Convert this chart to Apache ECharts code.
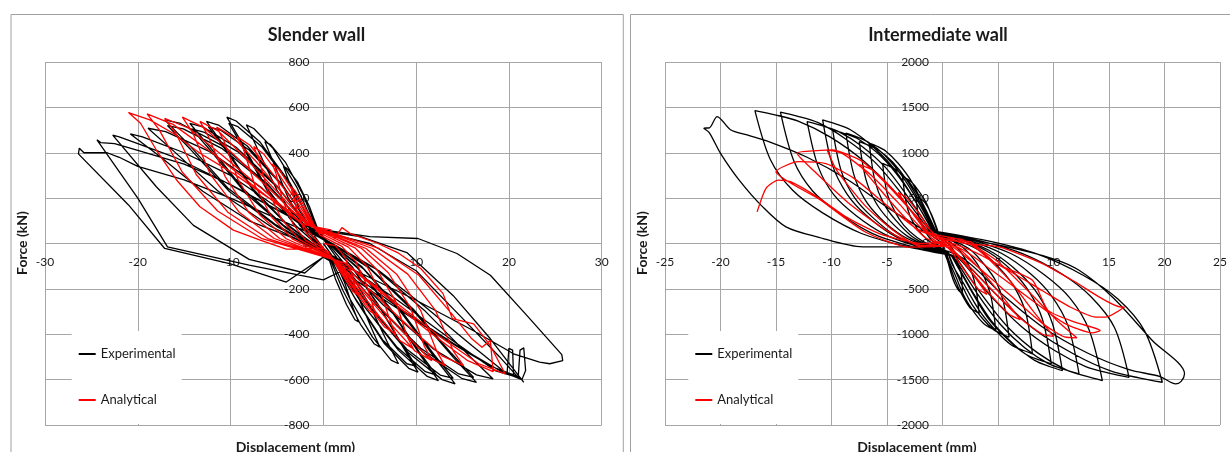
<!DOCTYPE html>
<html>
<head>
<meta charset="utf-8">
<script src="https://cdn.jsdelivr.net/npm/echarts@6/dist/echarts.min.js"></script>
<style>
  html, body { margin: 0; padding: 0; background: #fff; }
  #chart { width: 1230px; height: 452px; }
</style>
</head>
<body>
<div id="chart"></div>
<script>
// axis ticks
const slenderXTicks = [-30, -20, -10, 0, 10, 20, 30];
const slenderYTicks = [-800, -600, -400, -200, 0, 200, 400, 600, 800];
const interXTicks = [-25, -20, -15, -10, -5, 0, 5, 10, 15, 20, 25];
const interYTicks = [-2000, -1500, -1000, -500, 0, 500, 1000, 1500, 2000];

const seriesNames = ["Experimental", "Analytical"];
const chartTitles = ["Slender wall", "Intermediate wall"];

// slender wall, experimental (displacement mm, force kN)
const slenderExp = [
  [0, 0],
  [1.1, -62], [2.3, -173], [3.2, -284], [3.8, -346], [3.4, -336], [2.5, -270], [1.3, -156], [0.4, -42],
  [-1.3, 51], [-2.6, 153], [-3.7, 272], [-4.3, 340], [-3.9, 330], [-2.8, 272], [-1.5, 163], [-0.4, 41],
  [1.8, -82], [3.7, -229], [5.2, -375], [6.1, -457], [5.5, -443], [4.0, -356], [2.1, -206], [0.6, -55],
  [-1.9, 67], [-3.8, 202], [-5.4, 359], [-6.3, 449], [-5.7, 436], [-4.1, 359], [-2.2, 216], [-0.6, 54],
  [2.4, -95], [4.9, -265], [6.9, -435], [8.1, -530], [7.3, -514], [5.3, -413], [2.8, -239], [0.8, -64],
  [-2.5, 78], [-5.0, 235], [-7.1, 418], [-8.3, 523], [-7.5, 507], [-5.4, 418], [-2.9, 251], [-0.8, 63],
  [3.1, -102], [6.1, -284], [8.7, -465], [10.2, -567], [9.2, -550], [6.6, -442], [3.6, -255], [1.0, -68],
  [-3.1, 84], [-6.2, 251], [-8.8, 446], [-10.4, 557], [-9.4, 540], [-6.8, 446], [-3.6, 267], [-1.0, 67],
  [2.8, -90], [5.8, -262], [8.4, -440], [10.0, -540], [9.0, -530], [6.4, -425], [3.4, -240], [0.9, -60],
  [-2.9, 75], [-6.0, 230], [-8.6, 420], [-10.2, 530], [-9.2, 515], [-6.6, 425], [-3.5, 255], [-0.9, 60],
  [3.7, -109], [7.4, -302], [10.5, -495], [12.4, -604], [11.2, -586], [8.1, -471], [4.3, -272], [1.2, -72],
  [-3.8, 81], [-7.6, 242], [-10.7, 430], [-12.6, 538], [-11.3, 522], [-8.2, 430], [-4.4, 258], [-1.3, 65],
  [3.5, -98], [7.2, -285], [10.3, -475], [12.2, -580], [11.0, -565], [7.9, -455], [4.1, -262], [1.1, -66],
  [-3.6, 72], [-7.4, 225], [-10.5, 410], [-12.4, 515], [-11.1, 500], [-8.0, 412], [-4.2, 246], [-1.2, 60],
  [4.3, -111], [8.5, -310], [12.1, -508], [14.2, -619], [12.8, -600], [9.2, -483], [5.0, -279], [1.4, -74],
  [-4.3, 80], [-8.6, 239], [-12.2, 424], [-14.4, 530], [-13.0, 514], [-9.4, 424], [-5.0, 254], [-1.4, 64],
  [4.1, -100], [8.3, -292], [11.9, -488], [14.0, -595], [12.6, -580], [9.0, -466], [4.8, -268], [1.3, -68],
  [-4.1, 70], [-8.4, 222], [-12.0, 402], [-14.2, 505], [-12.8, 490], [-9.2, 404], [-4.8, 242], [-1.3, 58],
  [5.0, -110], [9.9, -306], [14.0, -502], [16.5, -612], [14.9, -594], [10.7, -477], [5.8, -275], [1.7, -73],
  [-5.1, 82], [-10.3, 245], [-14.5, 436], [-17.1, 545], [-15.4, 529], [-11.1, 436], [-6.0, 262], [-1.7, 65],
  [4.8, -100], [9.7, -290], [13.8, -484], [16.2, -590], [14.6, -575], [10.5, -462], [5.6, -265], [1.6, -68],
  [-4.9, 72], [-10.1, 228], [-14.3, 414], [-16.8, 520], [-15.1, 505], [-10.9, 418], [-5.8, 250], [-1.6, 60],
  [5.5, -107], [11.0, -299], [15.6, -490], [18.3, -597], [16.5, -579], [11.9, -466], [6.4, -269], [1.8, -72],
  [-5.7, 76], [-11.3, 229], [-16.1, 406], [-18.9, 508], [-17.0, 493], [-12.3, 406], [-6.6, 244], [-1.9, 61],
  [2.0, -30], [6.0, -120], [11.0, -280], [16.0, -450], [19.8, -575], [20.0, -462], [20.4, -470], [20.5, -585],
  [18.5, -560], [14.0, -430], [8.0, -250], [3.0, -110],
  [-3.0, 20], [-8.0, 100], [-13.0, 230], [-17.5, 380], [-20.8, 483], [-19.5, 470], [-15.0, 400], [-10.0, 300], [-5.0, 160], [-1.0, 40],
  [0, 50], [5, 0], [10, -120], [15, -330], [19, -500], [21.0, -590], [21.2, -470], [21.6, -460], [21.8, -560], [21.4, -600],
  [19, -560], [14, -440], [8, -280], [3, -130], [0, -60],
  [-2, -130], [-8, -70], [-14, 80], [-18, 250], [-22.7, 478], [-22, 470], [-20, 440], [-16, 380], [-11, 280], [-6, 170], [-1, 60],
  [4, 30], [9, -40], [14, -230], [18, -420], [21.6, -612], [21.2, -590], [18, -540], [13, -420], [7, -260], [2, -120],
  [0, -160], [-8, -95], [-16.8, -15], [-20, 200], [-24.4, 457], [-24.0, 445], [-22.5, 440], [-20, 410], [-15, 350], [-10, 260], [-5, 150], [0, 40],
  [0, 60], [5, 30], [10.2, 22], [14.4, -44], [18, -140], [22, -320], [25.7, -490], [25.8, -516], [24.4, -530], [23.3, -523],
  [20.5, -486], [16, -380], [10, -250], [4, -130], [0, -60],
  [-4, -170], [-10, -90], [-17.1, -22], [-21, 170], [-26.4, 395], [-26.3, 420], [-25.8, 400], [-23.3, 400], [-22, 380],
  [-20, 340], [-15, 280], [-10, 200], [-5, 110], [0, 20]
];

// slender wall, analytical
const slenderAna = [
  [0, 0],
  [1.3, -9], [2.3, -58], [3.0, -127], [3.5, -202], [3.8, -230], [3.2, -212], [2.4, -161], [1.5, -104], [0.5, -35],
  [-1.2, 10], [-2.1, 63], [-2.8, 138], [-3.3, 220], [-3.5, 250], [-3.0, 230], [-2.2, 175], [-1.4, 113], [-0.4, 38],
  [2.0, -13], [3.5, -80], [4.6, -176], [5.4, -282], [5.8, -320], [4.9, -294], [3.7, -224], [2.3, -144], [0.7, -48],
  [-1.9, 14], [-3.3, 88], [-4.4, 193], [-5.1, 308], [-5.5, 350], [-4.7, 322], [-3.5, 245], [-2.2, 158], [-0.7, 53],
  [2.7, -16], [4.7, -100], [6.2, -220], [7.3, -352], [7.8, -400], [6.6, -368], [4.9, -280], [3.1, -180], [0.9, -60],
  [-2.6, 17], [-4.5, 107], [-6.0, 235], [-7.0, 376], [-7.5, 427], [-6.4, 393], [-4.7, 299], [-3.0, 192], [-0.9, 64],
  [3.4, -19], [5.8, -116], [7.8, -255], [9.0, -408], [9.7, -464], [8.2, -427], [6.1, -325], [3.9, -209], [1.2, -70],
  [-3.3, 19], [-5.6, 118], [-7.4, 259], [-8.6, 414], [-9.3, 471], [-7.9, 433], [-5.9, 330], [-3.7, 212], [-1.1, 71],
  [4.1, -21], [7.0, -129], [9.4, -284], [10.9, -454], [11.7, -516], [9.9, -475], [7.4, -361], [4.7, -232], [1.4, -77],
  [-4.0, 21], [-6.9, 128], [-9.2, 282], [-10.7, 451], [-11.5, 513], [-9.8, 472], [-7.2, 359], [-4.6, 231], [-1.4, 77],
  [4.6, -22], [7.9, -135], [10.5, -296], [12.2, -473], [13.1, -538], [11.1, -495], [8.3, -377], [5.2, -242], [1.6, -81],
  [-4.7, 22], [-8.0, 135], [-10.6, 296], [-12.4, 473], [-13.3, 538], [-11.3, 495], [-8.4, 377], [-5.3, 242], [-1.6, 81],
  [5.3, -22], [9.1, -135], [12.1, -296], [14.0, -473], [15.1, -538], [12.8, -495], [9.5, -377], [6.0, -242], [1.8, -81],
  [-5.3, 22], [-9.1, 139], [-12.2, 306], [-14.1, 490], [-15.2, 557], [-12.9, 512], [-9.6, 390], [-6.1, 251], [-1.8, 84],
  [6.0, -22], [10.3, -140], [13.8, -308], [16.0, -420], [17.1, -457], [18.0, -427], [18.3, -565], [15.5, -515], [11.5, -392], [7.3, -252], [2.2, -84],
  [-6.0, 22], [-10.3, 138], [-13.7, 304], [-15.9, 486], [-17.1, 552], [-14.5, 508], [-10.8, 386], [-6.8, 248], [-2.1, 83],
  [0.8, 60], [1.2, 20], [2.0, 70], [2.9, 44], [5.9, 0], [8.0, -40], [10.5, -110], [12.9, -221], [13.9, -331], [16.2, -354],
  [18.0, -450], [19.6, -575], [16.7, -529], [12.3, -403], [7.8, -259], [2.4, -86],
  [-6.7, 23], [-11.4, 143], [-15.2, 314], [-17.7, 502], [-19.0, 571], [-16.2, 525], [-12.0, 400], [-7.6, 257], [-2.3, 86],
  [0, -20], [-4.0, -25], [-6.8, 15], [-9.7, 59], [-13.3, 162], [-15.8, 279], [-18.0, 412], [-19.7, 530], [-21.0, 577],
  [-18.7, 545], [-16.2, 486], [-13.3, 398], [-9.7, 309], [-6.1, 206], [-2.5, 118], [0, 40]
];

// intermediate wall, experimental
const interExp = [
  [0, 0],
  [-0.1, 55], [0.4, 11], [0.8, -41], [1.2, -127], [1.4, -221], [1.7, -348], [1.8, -552], [1.6, -535], [1.4, -508], [1.1, -442], [0.8, -342], [0.5, -210], [0.1, -55],
  [0.2, -52], [-0.5, -10], [-1.0, 39], [-1.5, 120], [-1.9, 208], [-2.2, 328], [-2.4, 520], [-2.2, 504], [-1.8, 478], [-1.4, 416], [-1.0, 322], [-0.6, 198], [-0.2, 52],
  [-0.3, 77], [0.7, 15], [1.4, -58], [2.1, -178], [2.6, -309], [3.0, -487], [3.3, -773], [3.0, -750], [2.5, -711], [2.0, -618], [1.4, -479], [0.8, -294], [0.3, -77],
  [0.3, -74], [-0.7, -15], [-1.5, 55], [-2.3, 169], [-2.9, 294], [-3.3, 464], [-3.6, 736], [-3.2, 714], [-2.8, 677], [-2.2, 589], [-1.5, 456], [-0.9, 280], [-0.3, 74],
  [-0.4, 96], [1.0, 19], [2.1, -72], [3.1, -220], [3.8, -383], [4.4, -604], [4.8, -958], [4.3, -929], [3.7, -881], [2.9, -766], [2.0, -594], [1.2, -364], [0.4, -96],
  [0.4, -88], [-1.1, -18], [-2.3, 66], [-3.5, 203], [-4.3, 354], [-5.0, 557], [-5.4, 884], [-4.9, 857], [-4.2, 813], [-3.2, 707], [-2.3, 548], [-1.4, 336], [-0.4, 88],
  [-0.5, 103], [1.2, 21], [2.6, -77], [3.8, -237], [4.8, -413], [5.5, -650], [6.0, -1032], [5.4, -1001], [4.6, -949], [3.6, -826], [2.5, -640], [1.5, -392], [0.5, -103],
  [0.5, -111], [-1.3, -22], [-2.8, 83], [-4.2, 254], [-5.3, 442], [-6.1, 696], [-6.6, 1105], [-5.9, 1072], [-5.1, 1017], [-4.0, 884], [-2.8, 685], [-1.7, 420], [-0.5, 111],
  [-0.6, 122], [1.6, 24], [3.5, -91], [5.2, -279], [6.5, -486], [7.5, -765], [8.1, -1215], [7.3, -1179], [6.2, -1118], [4.9, -972], [3.4, -753], [2.0, -462], [0.6, -122],
  [0.6, -112], [-1.5, -22], [-3.2, 84], [-4.8, 258], [-6.0, 449], [-6.9, 707], [-7.5, 1123], [-6.8, 1089], [-5.8, 1033], [-4.5, 898], [-3.2, 696], [-1.9, 427], [-0.6, 112],
  [-0.8, 133], [2.0, 27], [4.2, -99], [6.3, -305], [7.8, -530], [9.0, -835], [9.8, -1326], [8.8, -1286], [7.5, -1220], [5.9, -1061], [4.1, -822], [2.5, -504], [0.8, -133],
  [0.7, -122], [-1.7, -24], [-3.7, 91], [-5.6, 279], [-7.0, 486], [-8.0, 765], [-8.7, 1215], [-7.8, 1179], [-6.7, 1118], [-5.2, 972], [-3.7, 753], [-2.2, 462], [-0.7, 122],
  [-0.9, 140], [2.2, 28], [4.6, -105], [6.9, -322], [8.6, -560], [9.9, -882], [10.8, -1400], [9.7, -1358], [8.3, -1288], [6.5, -1120], [4.5, -868], [2.7, -532], [0.9, -140],
  [0.8, -125], [-2.0, -25], [-4.3, 94], [-6.3, 288], [-7.9, 501], [-9.1, 789], [-9.9, 1252], [-8.9, 1214], [-7.6, 1152], [-5.9, 1002], [-4.2, 776], [-2.5, 476], [-0.8, 125],
  [-1.0, 144], [2.5, 29], [5.3, -108], [7.9, -330], [9.8, -574], [11.3, -905], [12.3, -1436], [11.1, -1393], [9.5, -1321], [7.4, -1149], [5.2, -890], [3.1, -546], [1.0, -144],
  [0.9, -136], [-2.2, -27], [-4.6, 102], [-6.9, 313], [-8.6, 545], [-9.9, 858], [-10.8, 1362], [-9.7, 1321], [-8.3, 1253], [-6.5, 1090], [-4.5, 844], [-2.7, 518], [-0.9, 136],
  [-1.2, 151], [2.9, 30], [6.2, -113], [9.2, -347], [11.5, -604], [13.2, -951], [14.4, -1510], [13.0, -1465], [11.1, -1389], [8.6, -1208], [6.0, -936], [3.6, -574], [1.2, -151],
  [1.0, -134], [-2.4, -27], [-5.2, 101], [-7.8, 309], [-9.8, 538], [-11.2, 847], [-12.2, 1344], [-11.0, 1304], [-9.4, 1236], [-7.3, 1075], [-5.1, 833], [-3.1, 511], [-1.0, 134],
  [-1.3, 147], [3.4, 29], [7.2, -111], [10.8, -339], [13.4, -590], [15.5, -929], [16.8, -1474], [15.1, -1430], [12.9, -1356], [10.1, -1179], [7.1, -914], [4.2, -560], [1.3, -147],
  [1.2, -145], [-2.9, -29], [-6.3, 109], [-9.3, 333], [-11.7, 579], [-13.4, 912], [-14.6, 1447], [-13.1, 1404], [-11.2, 1331], [-8.8, 1158], [-6.1, 897], [-3.7, 550], [-1.2, 145],
  [-1.6, 153], [4.0, 31], [8.5, -115], [12.7, -352], [15.8, -612], [18.2, -963], [19.8, -1529], [17.8, -1483], [15.2, -1407], [11.9, -1223], [8.3, -948], [5.0, -581], [1.6, -153],
  [1.4, -147], [-3.4, -29], [-7.3, 110], [-10.8, 337], [-13.5, 586], [-15.5, 923], [-16.9, 1465], [-15.2, 1421], [-13.0, 1348], [-10.1, 1172], [-7.1, 908], [-4.2, 557], [-1.4, 147],
  [-2.1, 147], [5.1, -19], [9.9, -166], [12.3, -295], [15.3, -590], [18.9, -1069], [21.8, -1436], [21.5, -1520], [21.0, -1547],
  [19.6, -1466], [16.8, -1390], [13.1, -1209], [9.2, -937], [5.5, -574], [1.7, -151],
  [-1.8, -37], [-7.2, -37], [-11.3, 73], [-14.1, 183], [-16.2, 404], [-18.3, 696], [-20.0, 994], [-21.0, 1220], [-21.5, 1271], [-21.0, 1275],
  [-20.3, 1399], [-19.1, 1254], [-17.6, 1196], [-15.6, 1120], [-12.2, 950], [-8.5, 700], [-5.0, 400], [-1.6, 140], [0, 0]
];

// intermediate wall, analytical
const interAna = [
  [0, 0],
  [1.0, -80], [2.5, -300], [4.0, -560], [3.2, -500], [2.0, -300], [0.6, -60],
  [-1.0, 60], [-2.5, 300], [-4.0, 560], [-3.2, 500], [-2.0, 310], [-0.6, 70],
  [1.5, -60], [3.5, -300], [5.5, -600], [7.0, -840], [6.0, -780], [4.0, -520], [2.0, -220], [0.5, -40],
  [-1.5, 60], [-3.5, 300], [-5.8, 620], [-7.5, 870], [-6.3, 810], [-4.2, 560], [-2.2, 260], [-0.5, 50],
  [1.5, 50], [3.5, -100], [6.0, -400], [8.2, -750], [10.0, -1024], [9.0, -1000], [7.0, -820], [4.5, -520], [2.0, -200], [0, 10],
  [-2.0, -30], [-4.5, 150], [-7.0, 420], [-9.5, 800], [-10.4, 1031], [-9.0, 990], [-6.5, 760], [-4.0, 450], [-1.5, 130],
  [2.0, 30], [5.0, -200], [8.0, -560], [10.5, -870], [12.1, -1039], [11.0, -1030], [9.0, -880], [6.0, -560], [3.0, -240], [0.5, -20],
  [-2.0, -20], [-5.0, 140], [-8.5, 450], [-11.5, 790], [-13.1, 994], [-11.3, 1023], [-9.9, 1031], [-8.7, 987], [-7.2, 902], [-5.0, 650], [-2.5, 320], [0, 40],
  [2.5, 20], [4.8, -221], [8.1, -405], [9.5, -737], [12.0, -870], [14.2, -958], [13.5, -985], [11.0, -880], [8.0, -620], [4.5, -300], [1.0, -30],
  [-3.0, -40], [-7.0, 130], [-11.0, 480], [-15.0, 791], [-13.0, 902], [-10.5, 880], [-8.0, 720], [-5.0, 420], [-2.0, 140],
  [2.1, 0], [5.1, -37], [9.0, -221], [11.7, -405], [16.1, -700], [16.4, -700], [14.7, -811], [13.8, -811], [11.5, -700], [9.0, -520], [6.0, -300], [3.0, -100], [0, 20],
  [-1.8, 0], [-5.7, 110], [-8.7, 294], [-11.3, 515], [-13.7, 681], [-14.8, 699], [-15.9, 608], [-16.7, 349]
];

const FONT = 'Lato, "Open Sans", sans-serif';
const GRID_COLOR = "#a6a6a6";
const TEXT_COLOR = "#1a1a1a";

// plot boxes (px); the axes cross at zero, so they are shifted inward by half the box
const plots = [
  { left: 45, top: 62, width: 556.7, height: 363 },
  { left: 665, top: 62, width: 556, height: 363 },
];

function xAxisFor(ticks, gridIndex) {
  return {
    type: "value",
    gridIndex,
    position: "bottom",
    offset: -plots[gridIndex].height / 2,
    min: ticks[0],
    max: ticks[ticks.length - 1],
    interval: ticks[1] - ticks[0],
    axisLine: { show: false, onZero: false },
    axisTick: { show: false },
    splitLine: { show: true, lineStyle: { color: GRID_COLOR, width: 1 } },
    axisLabel: {
      fontSize: 12,
      fontFamily: FONT,
      color: TEXT_COLOR,
      margin: 13,
      showMinLabel: true,
      showMaxLabel: true,
      hideOverlap: false,
      formatter: (v) => (v === 0 ? "" : String(v)),
    },
  };
}

function yAxisFor(ticks, gridIndex) {
  return {
    type: "value",
    gridIndex,
    position: "left",
    offset: -plots[gridIndex].width / 2,
    min: ticks[0],
    max: ticks[ticks.length - 1],
    interval: ticks[1] - ticks[0],
    axisLine: { show: false, onZero: false },
    axisTick: { show: false },
    splitLine: { show: true, lineStyle: { color: GRID_COLOR, width: 1 } },
    axisLabel: {
      fontSize: 12,
      fontFamily: FONT,
      color: TEXT_COLOR,
      margin: 14,
      showMinLabel: true,
      showMaxLabel: true,
      hideOverlap: false,
      formatter: (v) => String(v),
    },
  };
}

function lineSeries(name, data, axisIndex, color, smooth) {
  return {
    name,
    type: "line",
    xAxisIndex: axisIndex,
    yAxisIndex: axisIndex,
    data,
    showSymbol: false,
    symbol: "none",
    smooth: smooth || false,
    color,
    itemStyle: { color },
    lineStyle: { color, width: 1.3 },
    emphasis: { disabled: true },
  };
}

function legendAt(left) {
  return {
    data: seriesNames,
    left,
    top: 331,
    orient: "vertical",
    icon: "rect",
    itemWidth: 17,
    itemHeight: 2,
    itemGap: 30,
    padding: [15, 6, 16, 7],
    backgroundColor: "#fff",
    selectedMode: false,
    textStyle: { fontSize: 13, fontFamily: FONT, color: TEXT_COLOR, lineHeight: 16 },
  };
}

function label(text, x, y, size, rotation) {
  return {
    type: "text",
    x,
    y,
    rotation: rotation || 0,
    z: 10,
    style: {
      text,
      font: "bold " + size + "px " + FONT,
      fill: TEXT_COLOR,
      textAlign: "center",
      textVerticalAlign: "middle",
      align: "center",
      verticalAlign: "middle",
    },
  };
}

const chart = echarts.init(document.getElementById("chart"));
chart.setOption({
  animation: false,
  backgroundColor: "#fff",
  grid: plots.map((p) => Object.assign({ containLabel: false }, p)),
  xAxis: [xAxisFor(slenderXTicks, 0), xAxisFor(interXTicks, 1)],
  yAxis: [yAxisFor(slenderYTicks, 0), yAxisFor(interYTicks, 1)],
  legend: [legendAt(71.7), legendAt(688.3)],
  graphic: [
    {
      type: "rect",
      shape: { x: 11, y: 14.5, width: 612.3, height: 460 },
      style: { fill: "none", stroke: "#a0a0a0", lineWidth: 1 },
      silent: true,
    },
    {
      type: "rect",
      shape: { x: 630.5, y: 14.5, width: 640, height: 460 },
      style: { fill: "none", stroke: "#a0a0a0", lineWidth: 1 },
      silent: true,
    },
    label(chartTitles[0], 316.5, 35, 18),
    label(chartTitles[1], 938, 35, 18),
    label("Displacement (mm)", 295.5, 447, 14),
    label("Displacement (mm)", 917, 447, 14),
    label("Force (kN)", 22, 243, 14, Math.PI / 2),
    label("Force (kN)", 642.6, 243, 14, Math.PI / 2),
  ],
  series: [
    lineSeries(seriesNames[0], slenderExp, 0, "#000000"),
    lineSeries(seriesNames[1], slenderAna, 0, "#ff0000"),
    lineSeries(seriesNames[0], interExp, 1, "#000000", 0.3),
    lineSeries(seriesNames[1], interAna, 1, "#ff0000", 0.2),
  ],
});
</script>
</body>
</html>
